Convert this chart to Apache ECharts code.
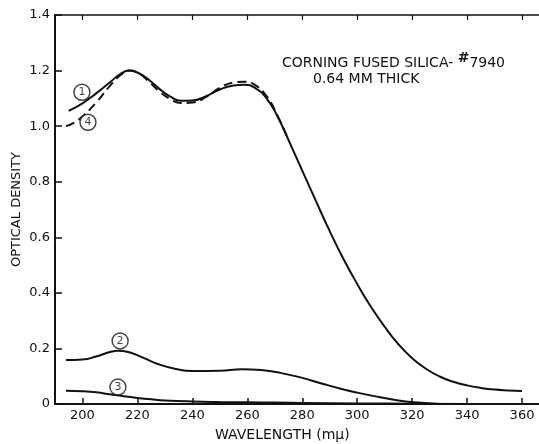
<!DOCTYPE html>
<html>
<head>
<meta charset="utf-8">
<script src="https://cdn.jsdelivr.net/npm/echarts@6/dist/echarts.min.js"></script>
<style>
  html, body { margin: 0; padding: 0; background: #fff; }
  #chart { width: 539px; height: 444px; }
</style>
</head>
<body>
<div id="chart"></div>
<script>
// Optical density of Corning fused silica #7940, 0.64 mm thick
const xTicks = [200, 220, 240, 260, 280, 300, 320, 340, 360];

// curve 1 (solid)
const curve1 = [
  [195, 1.055], [200, 1.082], [205, 1.118], [210, 1.158], [214, 1.189], [217, 1.2],
  [220, 1.193], [224, 1.168], [228, 1.134], [232, 1.106], [236, 1.091], [240, 1.092],
  [245, 1.108], [250, 1.132], [255, 1.146], [259, 1.149], [263, 1.136], [267, 1.1],
  [271, 1.035], [275, 0.95], [280, 0.84], [285, 0.73], [290, 0.622], [295, 0.522],
  [300, 0.432], [305, 0.35], [310, 0.278], [315, 0.215], [320, 0.165], [325, 0.127],
  [330, 0.099], [335, 0.08], [340, 0.067], [345, 0.058], [350, 0.052], [355, 0.049],
  [360, 0.047]
];

// curve 4 (dashed)
const curve4 = [
  [194, 1.0], [197, 1.013], [200, 1.035], [205, 1.085], [210, 1.145], [214, 1.185],
  [217, 1.2], [220, 1.193], [224, 1.162], [228, 1.125], [232, 1.097], [236, 1.083],
  [240, 1.085], [245, 1.105], [250, 1.138], [255, 1.157], [259, 1.16], [263, 1.147],
  [267, 1.108], [271, 1.038], [275, 0.95]
];

// curve 2
const curve2 = [
  [194, 0.158], [200, 0.16], [205, 0.171], [210, 0.187], [213, 0.192], [217, 0.186],
  [222, 0.167], [228, 0.142], [234, 0.126], [240, 0.119], [250, 0.12], [258, 0.125],
  [265, 0.122], [272, 0.112], [280, 0.094], [287, 0.074], [294, 0.055], [300, 0.041],
  [308, 0.025], [315, 0.013], [322, 0.005], [330, 0.0]
];

// curve 3
const curve3 = [
  [194, 0.048], [200, 0.046], [205, 0.042], [210, 0.035], [215, 0.028], [220, 0.022],
  [225, 0.017], [230, 0.013], [240, 0.009], [250, 0.007], [260, 0.006], [270, 0.005],
  [280, 0.004], [300, 0.002], [320, 0.001], [340, 0.0]
];

// circled curve numbers
const curveTags = [
  [199.8, 1.122, '1'],
  [202, 1.014, '4'],
  [213.7, 0.227, '2'],
  [212.9, 0.061, '3']
];

const ink = '#111';
const font = 'DejaVu Sans';

const chart = echarts.init(document.getElementById('chart'), null, { renderer: 'canvas' });

const lineSeries = (data, dashed) => ({
  type: 'line',
  data: data,
  smooth: 0.5,
  showSymbol: false,
  symbol: 'none',
  lineStyle: { color: ink, width: 2, type: dashed ? [9, 5] : 'solid' },
  z: 3
});

chart.setOption({
  animation: false,
  backgroundColor: '#fff',
  grid: { left: 55, top: 15, width: 494.5, height: 389, outerBoundsMode: 'none', containLabel: false },
  xAxis: [
    {
      type: 'value', min: 190, max: 370, position: 'bottom',
      axisLine: { lineStyle: { color: ink, width: 2 } },
      axisTick: { inside: true, length: 6, customValues: xTicks, lineStyle: { color: ink, width: 1.5 } },
      axisLabel: { customValues: xTicks, margin: 5, color: ink, fontFamily: font, fontSize: 13 },
      splitLine: { show: false }
    },
    {
      type: 'value', min: 190, max: 370, position: 'top',
      axisLine: { lineStyle: { color: ink, width: 1.5 } },
      axisTick: { inside: true, length: 5, customValues: xTicks, lineStyle: { color: ink, width: 1.2 } },
      axisLabel: { show: false },
      splitLine: { show: false }
    }
  ],
  yAxis: {
    type: 'value', min: 0, max: 1.4, interval: 0.2,
    name: 'OPTICAL DENSITY', nameLocation: 'middle', nameGap: 32, nameRotate: 90,
    nameMoveOverlap: false,
    nameTextStyle: { color: ink, fontFamily: font, fontSize: 13 },
    axisLine: { show: true, lineStyle: { color: ink, width: 2 } },
    axisTick: { show: true, inside: true, length: 7, lineStyle: { color: ink, width: 1.5 } },
    axisLabel: {
      margin: 5, color: ink, fontFamily: font, fontSize: 13,
      formatter: v => (v === 0 ? '0' : v.toFixed(1))
    },
    splitLine: { show: false }
  },
  series: [
    lineSeries(curve1, false),
    lineSeries(curve4, true),
    lineSeries(curve2, false),
    lineSeries(curve3, false),
    {
      type: 'scatter',
      data: curveTags,
      symbol: 'circle',
      symbolSize: 16,
      itemStyle: { color: '#fff', borderColor: ink, borderWidth: 1.4 },
      label: {
        show: true, position: 'inside', formatter: p => p.data[2],
        color: ink, fontFamily: font, fontSize: 11
      },
      z: 5
    }
  ],
  graphic: [
    {
      type: 'text', left: 282, top: 51,
      style: {
        text: '{a|CORNING FUSED SILICA- }{s|#}{a|7940}',
        rich: {
          a: { fontFamily: font, fontSize: 14, fill: ink },
          s: { fontFamily: font, fontSize: 14, fill: ink, fontWeight: 'bold', padding: [0, 0, 10, 0] }
        }
      }
    },
    {
      type: 'text', left: 313, top: 72,
      style: { text: '0.64 MM THICK', fontFamily: font, fontSize: 14, fill: ink }
    },
    {
      type: 'text', left: 215, top: 428,
      style: { text: 'WAVELENGTH (mμ)', fontFamily: font, fontSize: 14, fill: ink }
    }
  ]
});
</script>
</body>
</html>
